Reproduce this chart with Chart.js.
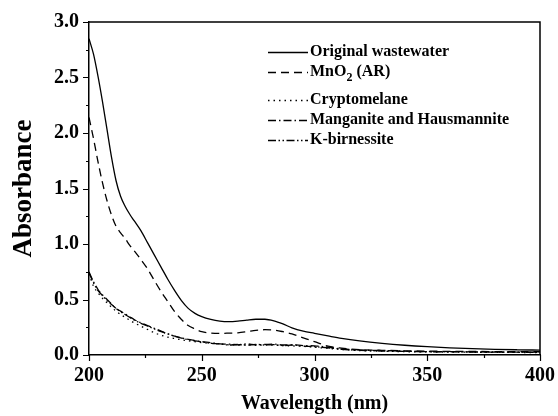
<!DOCTYPE html>
<html>
<head>
<meta charset="utf-8">
<script src="https://cdn.jsdelivr.net/npm/chart.js@4/dist/chart.umd.min.js"></script>
<style>
  html, body { margin: 0; padding: 0; background: #fff; }
  canvas { display: block; }
</style>
</head>
<body>
<canvas id="chart" width="558" height="416"></canvas>
<script>
/* UV-vis absorbance spectra */

const WAVELENGTH = [200, 202, 204, 206, 208, 210, 212, 214, 216, 218, 220, 223, 226, 229, 232, 235, 238, 241, 244, 247,
  250, 254, 258, 262, 266, 270, 274, 278, 282, 286, 290, 295, 300, 306, 312, 320, 330, 340, 350, 360, 370, 380, 390, 400];

const ORIGINAL = [2.85, 2.71, 2.51, 2.28, 2.03, 1.78, 1.57, 1.43, 1.34, 1.27, 1.21, 1.12, 1.01, 0.90, 0.79, 0.68, 0.58, 0.49, 0.42, 0.375,
  0.345, 0.32, 0.305, 0.30, 0.305, 0.315, 0.322, 0.322, 0.308, 0.28, 0.245, 0.215, 0.195, 0.172, 0.15, 0.127, 0.105, 0.088, 0.075, 0.065, 0.057, 0.051, 0.047, 0.044];

const MNO2 = [2.14, 1.95, 1.74, 1.55, 1.39, 1.26, 1.16, 1.10, 1.05, 0.99, 0.94, 0.86, 0.775, 0.67, 0.57, 0.48, 0.39, 0.32, 0.265, 0.235,
  0.21, 0.198, 0.195, 0.197, 0.20, 0.21, 0.222, 0.228, 0.225, 0.21, 0.19, 0.155, 0.12, 0.08, 0.062, 0.048, 0.042, 0.038, 0.035, 0.033, 0.032, 0.031, 0.03, 0.03];

const CRYPTOMELANE = [0.73, 0.62, 0.56, 0.51, 0.47, 0.43, 0.395, 0.365, 0.34, 0.315, 0.29, 0.26, 0.23, 0.20, 0.178, 0.16, 0.148, 0.138, 0.128, 0.12,
  0.112, 0.105, 0.098, 0.092, 0.09, 0.092, 0.088, 0.09, 0.088, 0.085, 0.082, 0.078, 0.07, 0.06, 0.05, 0.04, 0.035, 0.03, 0.028, 0.026, 0.025, 0.024, 0.023, 0.022];

const MANGANITE = [0.75, 0.66, 0.59, 0.54, 0.50, 0.46, 0.42, 0.395, 0.37, 0.345, 0.32, 0.29, 0.265, 0.24, 0.215, 0.19, 0.17, 0.155, 0.14, 0.13,
  0.12, 0.112, 0.10, 0.098, 0.092, 0.10, 0.092, 0.095, 0.098, 0.09, 0.092, 0.085, 0.082, 0.07, 0.055, 0.045, 0.04, 0.035, 0.03, 0.03, 0.028, 0.027, 0.026, 0.025];

const K_BIRNESSITE = [0.74, 0.65, 0.58, 0.535, 0.49, 0.455, 0.42, 0.39, 0.365, 0.34, 0.315, 0.285, 0.26, 0.235, 0.21, 0.19, 0.17, 0.152, 0.138, 0.128,
  0.118, 0.105, 0.10, 0.09, 0.095, 0.088, 0.096, 0.09, 0.094, 0.085, 0.09, 0.08, 0.075, 0.065, 0.052, 0.042, 0.036, 0.033, 0.03, 0.028, 0.027, 0.026, 0.025, 0.024];

const LABELS = ['Original wastewater', 'MnO2 (AR)', 'Cryptomelane', 'Manganite and Hausmannite', 'K-birnessite'];
const SERIES = [ORIGINAL, MNO2, CRYPTOMELANE, MANGANITE, K_BIRNESSITE];
const DASHES = [[], [8, 5], [1.5, 4], [8, 3, 1.5, 3], [8, 2.5, 1.5, 2.5, 1.5, 2.5]];

const X_TICK_LABELS = [200, 250, 300, 350, 400];
const Y_TICK_LABELS = [0, 0.5, 1.0, 1.5, 2.0, 2.5, 3.0];

const FONT = "'Liberation Serif', 'Times New Roman', serif";

function pts(values) {
  return values.map((v, i) => ({ x: WAVELENGTH[i], y: v }));
}

// ── frame, minor/major ticks, legend ─────────────────────────────────────────

const framePlugin = {
  id: 'frame',
  afterDraw(chart) {
    const { ctx, chartArea: a, scales: { x, y } } = chart;
    ctx.save();
    ctx.strokeStyle = '#000';
    ctx.lineWidth = 1.5;
    ctx.beginPath();
    ctx.moveTo(a.left, a.top); ctx.lineTo(a.right, a.top); ctx.lineTo(a.right, a.bottom);
    ctx.stroke();

    // ticks pointing outwards
    ctx.lineWidth = 1.2;
    ctx.beginPath();
    for (let v = 200; v <= 400; v += 25) {
      const px = Math.round(x.getPixelForValue(v)) + 0.5;
      const len = X_TICK_LABELS.includes(v) ? 6 : 3;
      ctx.moveTo(px, a.bottom); ctx.lineTo(px, a.bottom + len);
    }
    for (let v = 0; v <= 3.0001; v += 0.25) {
      const py = Math.round(y.getPixelForValue(v)) + 0.5;
      const len = Math.abs(v * 2 - Math.round(v * 2)) < 1e-6 ? 6 : 3;
      ctx.moveTo(a.left, py); ctx.lineTo(a.left - len, py);
    }
    ctx.stroke();

    // legend
    const rows = [52, 72, 100, 120, 140];
    const x0 = 268, x1 = 308, tx = 310;
    chart.data.datasets.forEach((ds, i) => {
      const ry = rows[i];
      ctx.setLineDash(ds.borderDash || []);
      ctx.lineWidth = 1.3;
      ctx.beginPath();
      ctx.moveTo(x0, ry + 0.5); ctx.lineTo(x1, ry + 0.5);
      ctx.stroke();
      ctx.setLineDash([]);
      ctx.fillStyle = '#000';
      ctx.textBaseline = 'middle';
      ctx.textAlign = 'left';
      // digits after a letter become subscripts (MnO2)
      const parts = ds.label.split(/(?<=[A-Za-z])(\d)/);
      let cx = tx;
      parts.forEach((p, k) => {
        if (!p) return;
        const sub = k % 2 === 1;
        ctx.font = `bold ${sub ? 12 : 16}px ${FONT}`;
        ctx.fillText(p, cx, ry + (sub ? 6 : 0));
        cx += ctx.measureText(p).width;
      });
    });
    ctx.restore();
  }
};

new Chart(document.getElementById('chart'), {
  type: 'line',
  data: {
    datasets: SERIES.map((s, i) => ({
      label: LABELS[i],
      data: pts(s),
      borderColor: '#000',
      borderWidth: 1.3,
      borderDash: DASHES[i],
      pointRadius: 0,
      fill: false,
      cubicInterpolationMode: 'monotone',
    }))
  },
  options: {
    responsive: false,
    animation: false,
    layout: { padding: { top: 22, right: 16, left: 0, bottom: 0 } },
    plugins: { legend: { display: false }, tooltip: { enabled: false } },
    scales: {
      x: {
        type: 'linear', min: 200, max: 400,
        afterFit: s => { s.height = 61; },
        border: { display: true, color: '#000', width: 1.5 },
        grid: { drawOnChartArea: false, drawTicks: true, tickLength: 6, tickColor: 'transparent' },
        ticks: {
          stepSize: 25, autoSkip: false, maxRotation: 0, padding: 3, color: '#000',
          font: { family: FONT, size: 20, weight: 'bold' },
          callback: v => X_TICK_LABELS.includes(v) ? String(v) : ''
        },
        title: {
          display: true, text: 'Wavelength (nm)', color: '#000',
          font: { family: FONT, size: 20, weight: 'bold' },
          padding: { top: 0, bottom: 0 }
        }
      },
      y: {
        type: 'linear', min: 0, max: 3,
        afterFit: s => { s.width = 89; },
        border: { display: true, color: '#000', width: 1.5 },
        grid: { drawOnChartArea: false, drawTicks: true, tickLength: 6, tickColor: 'transparent' },
        ticks: {
          stepSize: 0.25, autoSkip: false, padding: 4, color: '#000',
          font: { family: FONT, size: 20, weight: 'bold' },
          callback: v => Y_TICK_LABELS.some(t => Math.abs(t - v) < 1e-6) ? v.toFixed(1) : ''
        },
        title: {
          display: true, text: 'Absorbance', color: '#000',
          font: { family: FONT, size: 27, weight: 'bold' },
          padding: { top: 8, bottom: 0 }
        }
      }
    }
  },
  plugins: [framePlugin]
});
</script>
</body>
</html>
